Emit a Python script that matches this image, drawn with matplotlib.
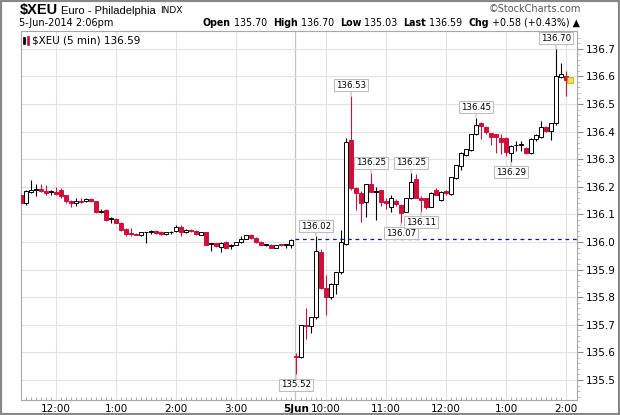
import matplotlib
matplotlib.use('Agg')
import matplotlib.pyplot as plt
from matplotlib.patches import Rectangle
import numpy as np
import pandas as pd

# 5-minute bars: 4 Jun 11:25-3:55pm, then 5 Jun 9:30am-2:00pm
bar_times = pd.date_range('2014-06-04 11:25', '2014-06-04 15:55', freq='5min').append(
    pd.date_range('2014-06-05 09:30', '2014-06-05 14:00', freq='5min'))

opens = [
    136.17, 136.14, 136.18, 136.19, 136.192, 136.185, 136.18, 136.182, 136.19, 136.17,
    136.15, 136.14, 136.15, 136.148, 136.155, 136.148, 136.11, 136.115, 136.083, 136.085,
    136.07, 136.048, 136.033, 136.03, 136.025, 136.035, 136.035, 136.04, 136.035, 136.028,
    136.035, 136.039, 136.053, 136.035, 136.045, 136.04, 136.027, 136.036, 135.992, 135.995,
    135.983, 136.0, 135.985, 135.99, 136.0, 136.012, 136.025, 136.015, 136.0, 135.99,
    135.99, 135.98, 135.99, 135.99, 135.99,
    135.585, 135.582, 135.697, 135.696, 135.73, 135.965, 135.832, 135.80, 135.848, 135.89,
    135.993, 136.37, 136.195, 136.176, 136.144, 136.209, 136.182, 136.188, 136.148, 136.128,
    136.15, 136.134, 136.11, 136.158, 136.227, 136.16, 136.158, 136.128, 136.188, 136.152,
    136.185, 136.174, 136.231, 136.275, 136.315, 136.333, 136.391, 136.43, 136.418, 136.394,
    136.39, 136.375, 136.375, 136.324, 136.35, 136.352, 136.34, 136.324, 136.372, 136.38,
    136.415, 136.403, 136.43, 136.598, 136.60,
]
highs = [
    136.175, 136.19, 136.225, 136.21, 136.21, 136.205, 136.19, 136.2, 136.195, 136.172,
    136.152, 136.158, 136.16, 136.158, 136.16, 136.15, 136.12, 136.118, 136.09, 136.088,
    136.072, 136.05, 136.05, 136.033, 136.037, 136.038, 136.045, 136.042, 136.04, 136.037,
    136.04, 136.06, 136.062, 136.047, 136.048, 136.042, 136.038, 136.038, 135.995, 135.997,
    136.0, 136.002, 135.993, 136.0, 136.02, 136.027, 136.028, 136.017, 136.002, 135.993,
    135.992, 135.99, 135.992, 135.994, 136.01,
    135.597, 135.70, 135.76, 135.73, 136.02, 135.974, 135.88, 135.85, 135.89, 136.043,
    136.376, 136.53, 136.2, 136.185, 136.21, 136.25, 136.2, 136.19, 136.16, 136.17,
    136.155, 136.136, 136.16, 136.25, 136.245, 136.165, 136.16, 136.18, 136.195, 136.185,
    136.19, 136.236, 136.28, 136.325, 136.338, 136.392, 136.45, 136.435, 136.42, 136.396,
    136.392, 136.39, 136.38, 136.35, 136.365, 136.365, 136.345, 136.375, 136.39, 136.44,
    136.42, 136.432, 136.70, 136.65, 136.62,
]
lows = [
    136.135, 136.135, 136.178, 136.165, 136.18, 136.17, 136.172, 136.17, 136.16, 136.14,
    136.125, 136.13, 136.14, 136.145, 136.145, 136.105, 136.105, 136.075, 136.07, 136.068,
    136.04, 136.02, 136.02, 136.024, 136.022, 135.997, 136.03, 136.03, 136.025, 136.026,
    136.03, 136.037, 136.02, 136.033, 136.038, 136.026, 136.025, 135.99, 135.968, 135.982,
    135.965, 135.978, 135.976, 135.988, 135.998, 136.01, 136.01, 135.998, 135.988, 135.986,
    135.978, 135.978, 135.986, 135.98, 135.98,
    135.52, 135.58, 135.65, 135.67, 135.72, 135.83, 135.735, 135.795, 135.81, 135.885,
    135.99, 136.19, 136.116, 136.073, 136.09, 136.18, 136.08, 136.13, 136.12, 136.11,
    136.13, 136.07, 136.108, 136.155, 136.158, 136.11, 136.12, 136.125, 136.17, 136.15,
    136.172, 136.17, 136.229, 136.262, 136.31, 136.33, 136.388, 136.372, 136.39, 136.35,
    136.321, 136.32, 136.31, 136.29, 136.33, 136.33, 136.32, 136.32, 136.365, 136.375,
    136.4, 136.37, 136.425, 136.595, 136.53,
]
closes = [
    136.14, 136.185, 136.19, 136.19, 136.185, 136.178, 136.18, 136.175, 136.165, 136.15,
    136.14, 136.148, 136.145, 136.155, 136.148, 136.11, 136.111, 136.08, 136.083, 136.07,
    136.045, 136.03, 136.028, 136.027, 136.035, 136.035, 136.04, 136.033, 136.028, 136.035,
    136.035, 136.053, 136.035, 136.045, 136.04, 136.028, 136.035, 135.99, 135.992, 135.985,
    135.997, 135.98, 135.985, 136.0, 136.012, 136.025, 136.013, 136.0, 135.99, 135.99,
    135.98, 135.99, 135.988, 135.99, 136.008,
    135.585, 135.70, 135.697, 135.73, 135.968, 135.832, 135.80, 135.848, 135.89, 136.0,
    136.363, 136.195, 136.176, 136.14, 136.209, 136.182, 136.182, 136.146, 136.142, 136.16,
    136.138, 136.106, 136.158, 136.218, 136.16, 136.152, 136.128, 136.176, 136.172, 136.182,
    136.178, 136.234, 136.279, 136.321, 136.336, 136.391, 136.424, 136.42, 136.40, 136.382,
    136.38, 136.363, 136.327, 136.348, 136.35, 136.355, 136.324, 136.372, 136.388, 136.415,
    136.403, 136.43, 136.60, 136.609, 136.587,
]

prev_close = 136.01
y_ticks = [135.5, 135.6, 135.7, 135.8, 135.9, 136.0, 136.1, 136.2, 136.3, 136.4, 136.5, 136.6, 136.7]

# callout boxes: (bar time, which extreme)
callouts = [
    ('2014-06-05 09:30', 'low'), ('2014-06-05 09:50', 'high'), ('2014-06-05 10:25', 'high'),
    ('2014-06-05 10:45', 'high'), ('2014-06-05 11:25', 'high'), ('2014-06-05 11:15', 'low'),
    ('2014-06-05 11:35', 'low'), ('2014-06-05 12:30', 'high'), ('2014-06-05 13:05', 'low'),
    ('2014-06-05 13:50', 'high'),
]

RED = '#d0103a'
GRID = '#e3e3e3'
W, H = 620, 415

o = np.array(opens); h = np.array(highs); l = np.array(lows); c = np.array(closes)
x = np.arange(len(c))
prev = np.concatenate([[o[0]], c[:-1]])
edge = np.where(c >= prev, 'black', RED)
fill = np.where(c > o, 'white', edge)

fig = plt.figure(figsize=(6.2, 4.15), dpi=100)
ax = fig.add_axes([20.7 / W, 1 - 400 / H, (577 - 20.7) / W, (400 - 31) / H])
renderer = fig.canvas.get_renderer()

# grid
ax.set_yticks(y_ticks)
ax.grid(axis='y', color=GRID, lw=0.8, zorder=0)
hour_idx = [i for i, t in enumerate(bar_times) if t.minute == 0]
for i in hour_idx:
    ax.axvline(i, color=GRID, lw=0.8, zorder=0)
day_break = [i for i in range(1, len(bar_times)) if bar_times[i].date() != bar_times[i - 1].date()][0]
ax.axvline(day_break - 0.2, color='#c4c4c4', lw=0.9, zorder=1)
ax.hlines(prev_close, day_break - 0.2, len(c) + 3, colors='#1010c0', lw=0.9,
          linestyles=(0, (3, 3)), zorder=1)

# candles
ax.vlines(x, l, h, colors=edge, lw=0.8, zorder=2)
ax.bar(x, np.maximum(np.abs(c - o), 0.003), bottom=np.minimum(o, c), width=0.72,
       color=fill, edgecolor=edge, linewidth=0.7, zorder=3)

# callouts
for t, kind in callouts:
    i = bar_times.get_loc(pd.Timestamp(t))
    v = h[i] if kind == 'high' else l[i]
    dy = 7.5 if kind == 'high' else -7.5
    ax.annotate(f'{v:.2f}', (i, v), xytext=(0, dy), textcoords='offset points',
                ha='center', va='center', fontsize=6.2, zorder=5,
                bbox=dict(boxstyle='square,pad=0.18', fc='white', ec='#bdbdbd', lw=0.8),
                arrowprops=dict(arrowstyle='-', color='#bdbdbd', lw=0.8, shrinkA=0, shrinkB=0))

# last-bar marker
ax.plot(len(c) - 1 + 0.9, c[-1], marker='s', ms=4, mfc='#f4e04d', mec='#b0a000', mew=0.5, zorder=4)

ax.set_xlim(-0.06, 111.2)
ax.set_ylim(135.4275, 136.7645)

# axes styling
for s in ax.spines.values():
    s.set_color('#a8a8a8')
    s.set_linewidth(0.8)
ax.yaxis.tick_right()
ax.yaxis.set_major_formatter(plt.FormatStrFormatter('%.1f'))
ax.tick_params(axis='y', direction='out', length=4, width=0.8, color='#888888',
               labelsize=7.5, pad=2)

xt = hour_idx[:4] + [day_break] + hour_idx[4:]
xl = [f'{(bar_times[i].hour - 1) % 12 + 1}:00' for i in hour_idx]
xl = xl[:4] + [bar_times[day_break].strftime('%-d%b')] + xl[4:]
ax.set_xticks(xt, xl)
ax.set_xticks(x, minor=True)
ax.tick_params(axis='x', which='major', length=0, labelsize=7.5, pad=3)
ax.tick_params(axis='x', which='minor', direction='in', length=2, width=0.6, color='#999999')
ax.get_xticklabels()[4].set_fontweight('bold')
ax.set_yticks(np.arange(135.44, 136.76, 0.02), minor=True)
ax.tick_params(axis='y', which='minor', direction='out', length=2, width=0.5, color='#aaaaaa')

# legend inside plot
ax.add_patch(Rectangle((0.004, 0.965), 0.004, 0.02, transform=ax.transAxes, fc='black', ec='black', lw=0.5, zorder=6))
ax.add_patch(Rectangle((0.011, 0.962), 0.004, 0.025, transform=ax.transAxes, fc=RED, ec=RED, lw=0.5, zorder=6))
ax.text(0.02, 0.975, '$XEU (5 min) 136.59', transform=ax.transAxes, fontsize=7.5,
        va='center', ha='left', zorder=6)

# header, row 1
t = fig.text(20 / W, 1 - 10 / H, '$XEU', fontsize=10.5, fontweight='bold', va='center',
             family='Liberation Sans')
px = 20 + t.get_window_extent(renderer).width + 3
t = fig.text(px / W, 1 - 10.5 / H, 'Euro - Philadelphia', fontsize=8, va='center',
             family='Liberation Sans')
px += t.get_window_extent(renderer).width + 4
fig.text(px / W, 1 - 10.5 / H, 'INDX', fontsize=6.5, va='center')
fig.text(581 / W, 1 - 9 / H, '\u00a9StockCharts.com', fontsize=7, color='#555555',
         ha='right', va='center')
fig.text(19 / W, 1 - 22.5 / H, '5-Jun-2014 2:06pm', fontsize=7, va='center')

# header, row 2: fit between x=203 and x=581
stats = [('Open', True), (' 135.70  ', False), ('High', True), (' 136.70  ', False),
         ('Low', True), (' 135.03  ', False), ('Last', True), (' 136.59  ', False),
         ('Chg', True), (' +0.58 (+0.43%) \u25b2', False)]
size = 7.3
probe = [fig.text(0, 0, s, fontsize=size, fontweight='bold' if b else 'normal') for s, b in stats]
total = sum(p.get_window_extent(renderer).width for p in probe)
for p in probe:
    p.remove()
size = size * (581 - 203) / total
px = 203
for s, bold in stats:
    t = fig.text(px / W, 1 - 22.5 / H, s, fontsize=size, va='center',
                 fontweight='bold' if bold else 'normal')
    px += t.get_window_extent(renderer).width

fig.add_artist(Rectangle((0, 0), 1, 1, transform=fig.transFigure, fill=False,
                         ec='#888888', lw=3))

plt.savefig('out.png', dpi=100)
plt.close()
